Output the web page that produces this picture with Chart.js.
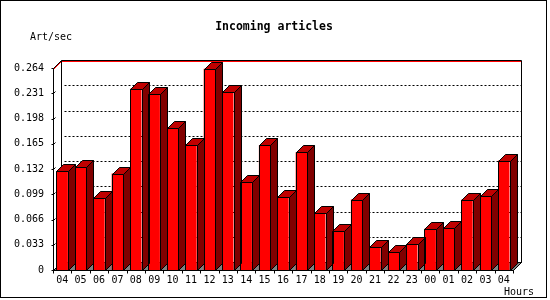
<!DOCTYPE html>
<html>
<head>
<meta charset="utf-8">
<script src="https://cdn.jsdelivr.net/npm/chart.js@4/dist/chart.umd.min.js"></script>
<style>
body { margin: 0; background: #fff; }
canvas { display: block; }
</style>
</head>
<body>
<canvas id="chart" width="550" height="300"></canvas>
<script>
// data
const hours = ["04", "05", "06", "07", "08", "09", "10", "11", "12", "13", "14", "15", "16",
	"17", "18", "19", "20", "21", "22", "23", "00", "01", "02", "03", "04"];
const artPerSec = [0.129, 0.134, 0.094, 0.126, 0.237, 0.230, 0.186, 0.163, 0.263, 0.233, 0.115, 0.163, 0.095,
	0.154, 0.074, 0.051, 0.092, 0.030, 0.023, 0.034, 0.054, 0.055, 0.092, 0.097, 0.143];
const yTicks = [0, 0.033, 0.066, 0.099, 0.132, 0.165, 0.198, 0.231, 0.264];

const WALL = 8; // depth of the back wall
const DEPTH = 7; // depth of a bar
const MONO = '"DejaVu Sans Mono", monospace';

function poly(ctx, pts, fill) {
	ctx.beginPath();
	ctx.moveTo(pts[0][0], pts[0][1]);
	for (let i = 1; i < pts.length; i++) ctx.lineTo(pts[i][0], pts[i][1]);
	if (fill) {
		ctx.closePath();
		ctx.fillStyle = fill;
		ctx.fill();
	}
	ctx.stroke();
}

const frame3d = {
	id: "frame3d",
	beforeDraw(chart) {
		const ctx = chart.ctx;
		ctx.save();
		ctx.fillStyle = "#fff";
		ctx.fillRect(0, 0, chart.width, chart.height);
		ctx.strokeStyle = "#000";
		ctx.lineWidth = 1;
		ctx.strokeRect(0.5, 0.5, 546, 297);
		ctx.fillStyle = "#000";
		ctx.textBaseline = "middle";
		ctx.textAlign = "center";
		ctx.font = "bold 11.5px " + MONO;
		ctx.fillText("Incoming articles", 274, 27);
		ctx.textAlign = "left";
		ctx.font = "10px " + MONO;
		ctx.fillText("Art/sec", 30, 37);
		ctx.fillText("Hours", 504, 292);
		ctx.restore();
	},
	beforeDatasetsDraw(chart) {
		const { ctx, chartArea: a, scales: { x, y } } = chart;
		const L = Math.round(a.left) + 0.5, R = Math.round(a.right) + 0.5;
		const T = Math.round(a.top) + 0.5, B = Math.round(a.bottom) + 0.5;
		ctx.save();
		ctx.lineWidth = 1;
		ctx.strokeStyle = "#000";
		// floor
		poly(ctx, [[L, B], [R, B], [R + WALL, B - WALL], [L + WALL, B - WALL]], "#808080");
		// dotted grid on the back wall
		ctx.setLineDash([2, 2]);
		yTicks.forEach((v) => {
			if (v <= 0 || v >= yTicks[yTicks.length - 1]) return;
			const py = Math.round(y.getPixelForValue(v)) - WALL + 0.5;
			poly(ctx, [[L + WALL + 3, py], [R + WALL, py]]);
		});
		ctx.setLineDash([]);
		// max line
		const my = Math.round(y.getPixelForValue(Math.max(...artPerSec))) + 0.5;
		ctx.strokeStyle = "#f00";
		poly(ctx, [[L, my], [L + WALL, my - WALL], [R + WALL, my - WALL]]);
		// walls and axes
		ctx.strokeStyle = "#000";
		poly(ctx, [[L, B], [L, T], [L + WALL, T - WALL], [R + WALL, T - WALL], [R + WALL, B - WALL], [R, B], [L, B]]);
		poly(ctx, [[L + WALL, T - WALL], [L + WALL, B - WALL], [R + WALL, B - WALL]]);
		yTicks.forEach((v) => {
			const py = Math.round(y.getPixelForValue(v)) + 0.5;
			poly(ctx, [[L - 2, py], [L, py]]);
			poly(ctx, [[L, py], [L + 2, py - 2]]);
		});
		for (let i = 0; i <= hours.length; i++) {
			const px = Math.round(x.getPixelForValue(i - 0.5)) + 0.5;
			poly(ctx, [[px, B], [px, B + 3]]);
		}
		ctx.restore();
	},
	afterDatasetsDraw(chart) {
		const ctx = chart.ctx;
		ctx.save();
		ctx.lineWidth = 1;
		ctx.strokeStyle = "#000";
		chart.getDatasetMeta(0).data.forEach((bar) => {
			const p = bar.getProps(["x", "y", "base", "width"], true);
			const l = Math.round(p.x - p.width / 2) + 0.5, r = Math.round(p.x + p.width / 2) + 0.5;
			const t = Math.round(p.y) + 0.5, b = Math.round(p.base) + 0.5;
			poly(ctx, [[l, b], [l, t], [r, t], [r, b], [l, b]]);
			poly(ctx, [[r, b], [r + DEPTH, b - DEPTH], [r + DEPTH, t - DEPTH], [r, t]], "#800000");
			poly(ctx, [[l, t], [l + DEPTH, t - DEPTH], [r + DEPTH, t - DEPTH], [r, t]], "#c00000");
		});
		ctx.restore();
	},
};

const chart = new Chart(document.getElementById("chart"), {
	type: "bar",
	data: {
		labels: hours,
		datasets: [
			{
				label: "Incoming articles",
				data: artPerSec,
				backgroundColor: "#ff0000",
				borderWidth: 0,
				categoryPercentage: 1,
				barPercentage: 0.62,
			},
		],
	},
	options: {
		responsive: false,
		animation: false,
		devicePixelRatio: 1,
		layout: { padding: { left: 0, right: 37, top: 68, bottom: 0 } },
		plugins: {
			legend: { display: false },
			tooltip: { enabled: false },
		},
		scales: {
			x: {
				afterFit: (s) => { s.height = 30; },
				grid: { display: false, drawTicks: false },
				border: { display: false },
				ticks: {
					color: "#000",
					padding: 4,
					autoSkip: false,
					maxRotation: 0,
					font: { family: MONO, size: 10 },
				},
			},
			y: {
				min: 0,
				max: yTicks[yTicks.length - 1],
				afterFit: (s) => { s.width = 53; },
				afterBuildTicks: (s) => { s.ticks = yTicks.map((v) => ({ value: v })); },
				grid: { display: false, drawTicks: false },
				border: { display: false },
				ticks: {
					color: "#000",
					padding: 9,
					font: { family: MONO, size: 10 },
					callback: (v) => (v === 0 ? "0" : v.toFixed(3)),
				},
			},
		},
	},
	plugins: [frame3d],
});
</script>
</body>
</html>
